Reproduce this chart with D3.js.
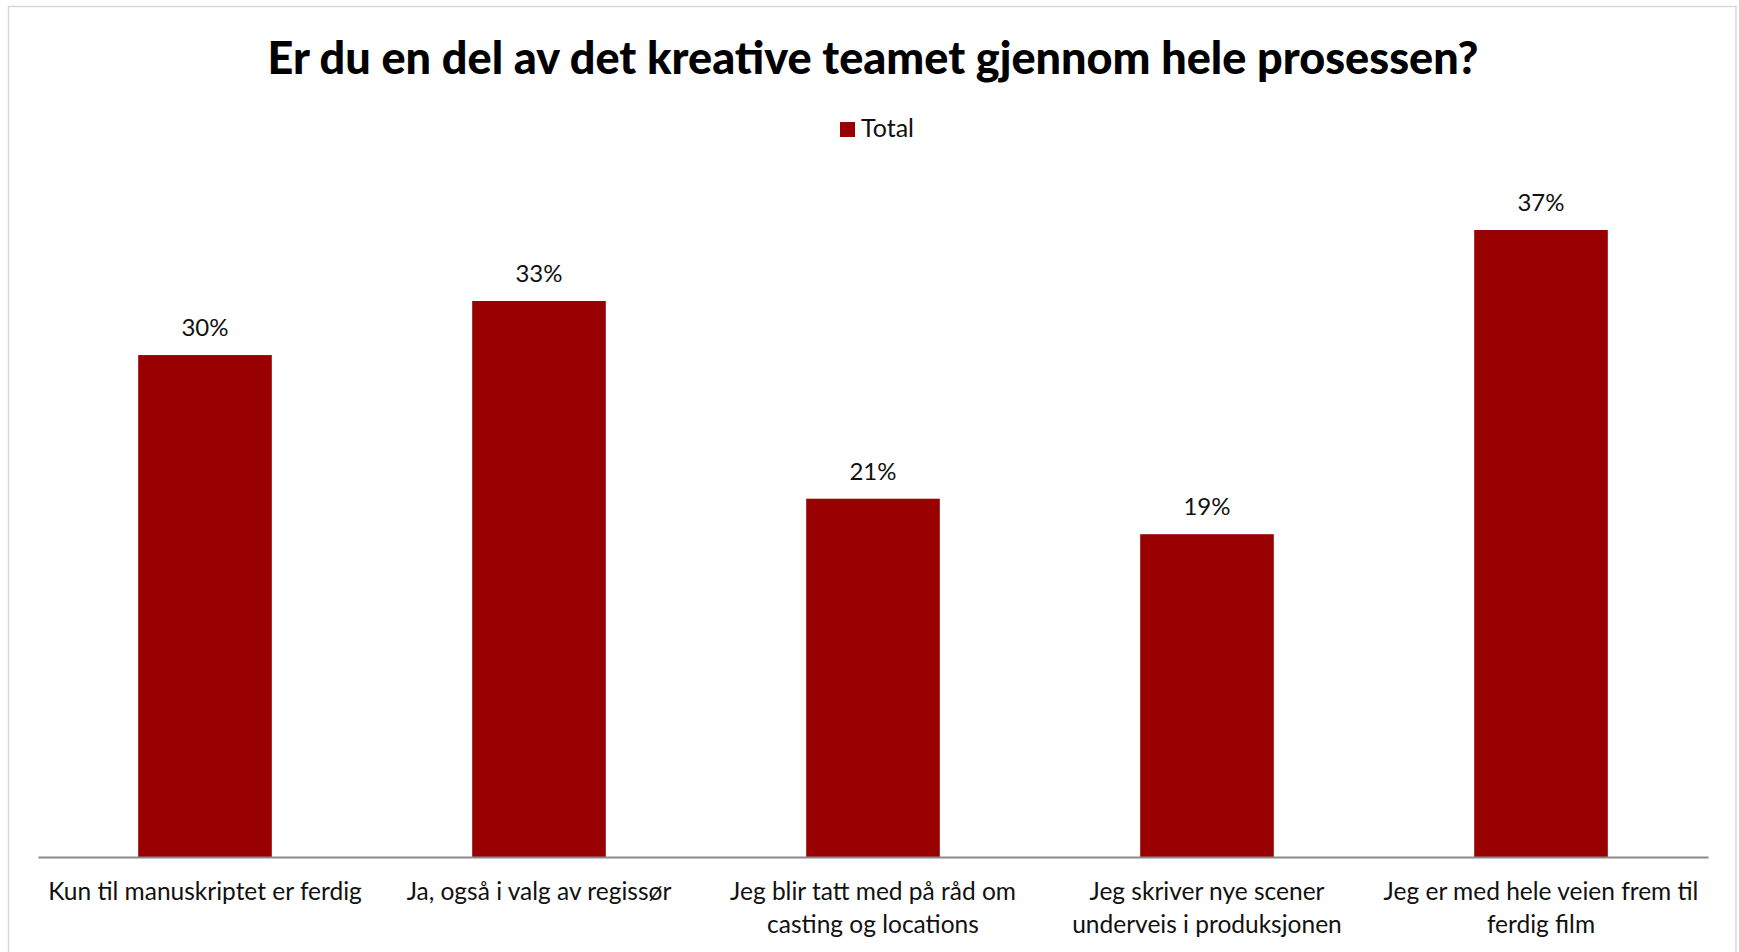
<!DOCTYPE html>
<html>
<head>
<meta charset="utf-8">
<script src="https://cdn.jsdelivr.net/npm/d3@7"></script>
<style>
  html, body { margin: 0; padding: 0; background: #ffffff; }
  svg { display: block; }
  text { font-family: Lato, "Open Sans", sans-serif; }
</style>
</head>
<body>
<svg id="chart" width="1739" height="952"></svg>
<script>
const title = "Er du en del av det kreative teamet gjennom hele prosessen?";
const seriesName = "Total";
const categories = [
  "Kun til manuskriptet er ferdig",
  "Ja, også i valg av regissør",
  "Jeg blir tatt med på råd om\ncasting og locations",
  "Jeg skriver nye scener\nunderveis i produksjonen",
  "Jeg er med hele veien frem til\nferdig film"
];
const values = [29.7, 32.9, 21.2, 19.1, 37.1];
const yDomain = [0, 40];

const svg = d3.select("#chart");
const W = 1739, H = 952;
const plot = { left: 38, right: 1708, top: 181, bottom: 857 };
const barColor = "#990000";

// chart border
svg.append("rect")
  .attr("x", 8.5).attr("y", 6.5)
  .attr("width", 1736 - 8.5).attr("height", H + 10)
  .attr("fill", "#ffffff").attr("stroke", "#d9d9d9").attr("stroke-width", 1.5);

// title
svg.append("text")
  .attr("x", 873).attr("y", 74)
  .attr("text-anchor", "middle")
  .attr("font-size", 45).attr("font-weight", 900)
  .attr("fill", "#000")
  .text(title);

// legend
const legend = svg.append("g");
legend.append("rect")
  .attr("x", 840).attr("y", 122).attr("width", 15).attr("height", 15)
  .attr("fill", barColor);
legend.append("text")
  .attr("x", 861).attr("y", 137)
  .attr("font-size", 25).attr("fill", "#111")
  .text(seriesName);

const x = d3.scaleBand()
  .domain(categories)
  .range([plot.left, plot.right])
  .paddingInner(0.6).paddingOuter(0.3);

const y = d3.scaleLinear().domain(yDomain).range([plot.bottom, plot.top]);

// bars
svg.append("g").selectAll("rect")
  .data(categories)
  .join("rect")
  .attr("x", d => x(d))
  .attr("width", x.bandwidth())
  .attr("y", (d, i) => y(values[i]))
  .attr("height", (d, i) => y(0) - y(values[i]))
  .attr("fill", barColor);

// value labels
svg.append("g").selectAll("text")
  .data(categories)
  .join("text")
  .attr("x", d => x(d) + x.bandwidth() / 2)
  .attr("y", (d, i) => y(values[i]) - 19)
  .attr("text-anchor", "middle")
  .attr("font-size", 24).attr("fill", "#111")
  .text((d, i) => Math.round(values[i]) + "%");

// x axis
const xAxis = d3.axisBottom(x).tickSize(0).tickPadding(0).tickFormat("");
const axisG = svg.append("g")
  .attr("transform", `translate(0,${plot.bottom})`)
  .call(xAxis);
axisG.select(".domain").attr("stroke", "#898989").attr("stroke-width", 2);

// category labels
const lab = svg.append("g").selectAll("text")
  .data(categories)
  .join("text")
  .attr("x", d => x(d) + x.bandwidth() / 2)
  .attr("y", 900)
  .attr("text-anchor", "middle")
  .attr("font-size", 24.5).attr("fill", "#111");
lab.each(function(d) {
  const t = d3.select(this);
  const cx = x(d) + x.bandwidth() / 2;
  d.split("\n").forEach((line, i) => {
    t.append("tspan").attr("x", cx).attr("dy", i === 0 ? 0 : 33).text(line);
  });
});
</script>
</body>
</html>
